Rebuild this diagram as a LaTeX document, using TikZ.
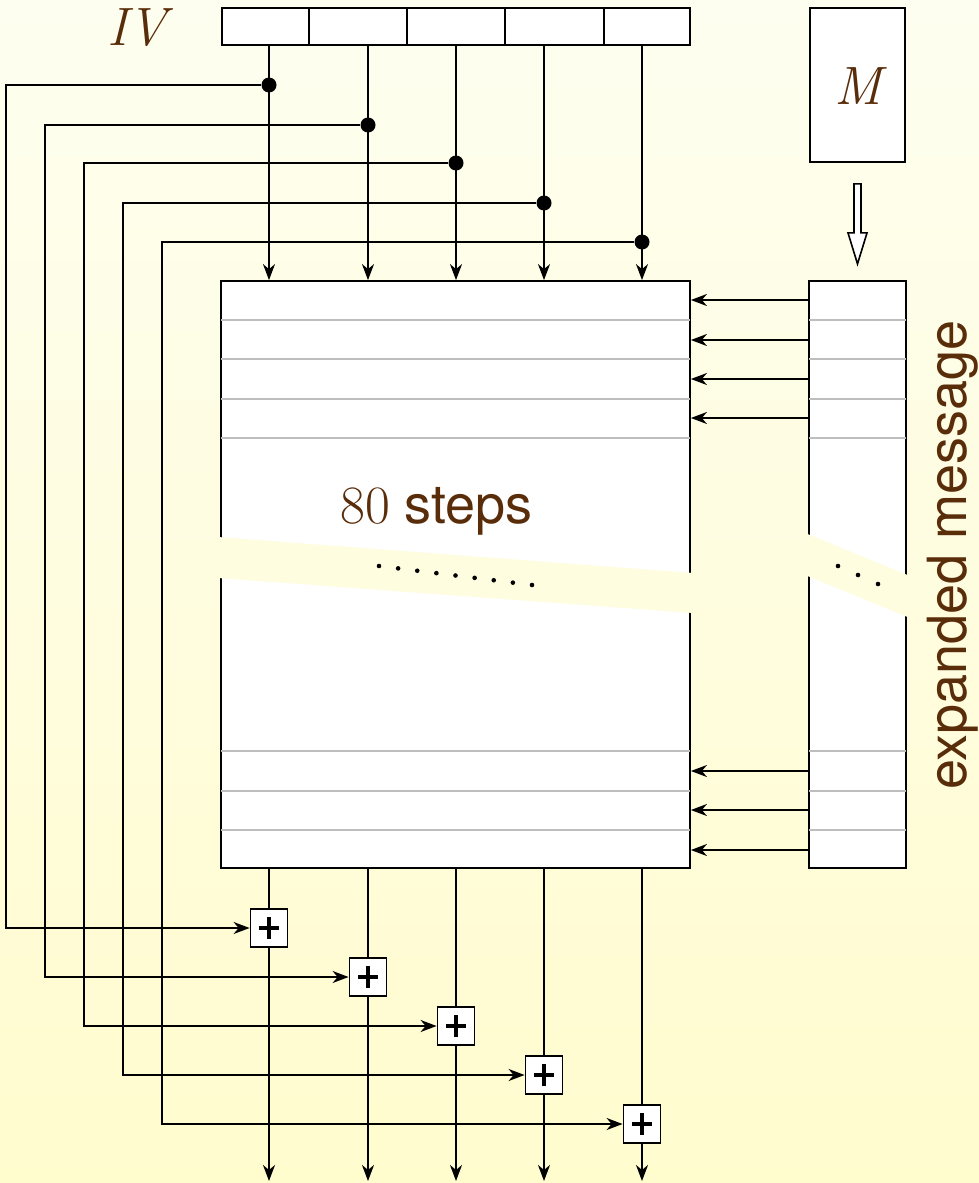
\documentclass[tikz,border=0pt]{standalone}
\usepackage{fontspec}
\setsansfont{TeX Gyre Heros}
\usetikzlibrary{arrows.meta,positioning,calc}

\definecolor{ink}{RGB}{90,45,10}
\definecolor{bgtop}{RGB}{254,254,240}
\definecolor{bgbot}{RGB}{255,252,206}
\definecolor{rulegray}{RGB}{190,190,190}

\begin{document}
\begin{tikzpicture}[
  x=1pt, y=-1pt,
  line width=1.8pt,
  backdrop/.style={top color=bgtop,bottom color=bgbot,draw=none},
  cell/.style={draw,fill=white,minimum height=37pt,inner sep=0pt,outer sep=0pt},
  block/.style={draw,fill=white,inner sep=0pt},
  tapdot/.style={circle,fill,inner sep=0pt,minimum size=15pt},
  adder/.style={draw,fill=white,inner sep=0pt,minimum width=37pt,minimum height=38pt,
    path picture={\draw[line width=4.5pt]
      ($(path picture bounding box.center)+(-10,0)$) -- +(20,0)
      ($(path picture bounding box.center)+(0,-11)$) -- +(0,22);}},
  arrow/.style={-{Stealth[length=16pt,width=12pt,inset=5pt]}},
  rowline/.style={draw=rulegray,line width=1.6pt,shorten <=0.9pt,shorten >=0.9pt},
  mathlabel/.style={text=ink,font=\fontsize{54}{60}\selectfont\itshape},
  sanslabel/.style={text=ink,font=\fontsize{54}{60}\selectfont\sffamily}
]
\useasboundingbox (0,0) rectangle (979,1183);
\shade[backdrop] (0,0) rectangle (979,1183);

% IV register
\node[cell,minimum width=87pt,anchor=north west] (iv1) at (222,8) {};
\node[cell,minimum width=98pt,right=0pt of iv1] (iv2) {};
\node[cell,minimum width=98pt,right=0pt of iv2] (iv3) {};
\node[cell,minimum width=99pt,right=0pt of iv3] (iv4) {};
\node[cell,minimum width=86pt,right=0pt of iv4] (iv5) {};
\node[mathlabel,anchor=base] (ivlabel) at (137,45) {IV};

% message block
\node[block,minimum width=95pt,minimum height=154pt] (mbox) at (857.5,85) {};
\node[mathlabel,anchor=base] (mlabel) at (858,104) {M};

% compression steps and expanded message
\node[block,minimum width=469pt,minimum height=587pt] (steps) at (455.5,574.5) {};
\node[block,minimum width=97pt,minimum height=587pt] (expmsg) at (857.5,574.5) {};
\foreach \y in {320,359,399,438,751,791,830} {
  \draw[rowline] (steps.west |- 0,\y) -- (steps.east |- 0,\y);
  \draw[rowline] (expmsg.west |- 0,\y) -- (expmsg.east |- 0,\y);
}
\foreach \y in {300,340,379,418,771,810,850}
  \draw[arrow] (expmsg.west |- 0,\y) -- (steps.east |- 0,\y);

\draw[fill=white,line width=1.6pt] ([shift={(-3.5,21)}]mbox.south) -- ++(0,49)
  -- ++(-6,0) -- ++(9.5,31) -- ++(9.5,-31) -- ++(-6,0) -- ++(0,-49) -- cycle;

% break in the rounds
\begin{scope}
  \clip (218,537) -- (693,573) -- (693,613) -- (218,578) -- cycle;
  \shade[backdrop] (0,0) rectangle (979,1183);
\end{scope}
\begin{scope}
  \clip (805,533) -- (910,576) -- (910,618) -- (805,575) -- cycle;
  \shade[backdrop] (0,0) rectangle (979,1183);
\end{scope}
\foreach \k in {0,...,8}
  \fill ($(379,566)!\k/8!(532,585)$) circle (2.3);
\foreach \k in {0,1,2}
  \fill ($(838,566)!\k/2!(878,584)$) circle (2.3);

\node[sanslabel,anchor=base] (stepslabel) at (436.5,523) {{\rmfamily 80} steps};
\node[sanslabel,rotate=90,anchor=base] (explabel) at (966,555) {expanded message};

% feed-forward
\coordinate (outline) at (0,1181);
\foreach \i/\x/\ty/\lx/\ay in {1/269/85/6/928,2/368/125/45/977,3/456/163/84/1026,
    4/544/203/123/1075,5/642/242/162/1124} {
  \coordinate (bend\i) at (\lx,\ay);
  \node[adder] (add\i) at (\x,\ay) {};
  \draw (\x,0 |- iv1.south) -- (\x,\ty);
  \draw[arrow] (\x,\ty) -- (\x,0 |- steps.north);
  \node[tapdot] (tap\i) at (\x,\ty) {};
  \draw[arrow] (tap\i) -| (bend\i) -- (add\i);
  \draw (add\i |- steps.south) -- (add\i);
  \draw[arrow] (add\i) -- (add\i |- outline);
}
\end{tikzpicture}
\end{document}
